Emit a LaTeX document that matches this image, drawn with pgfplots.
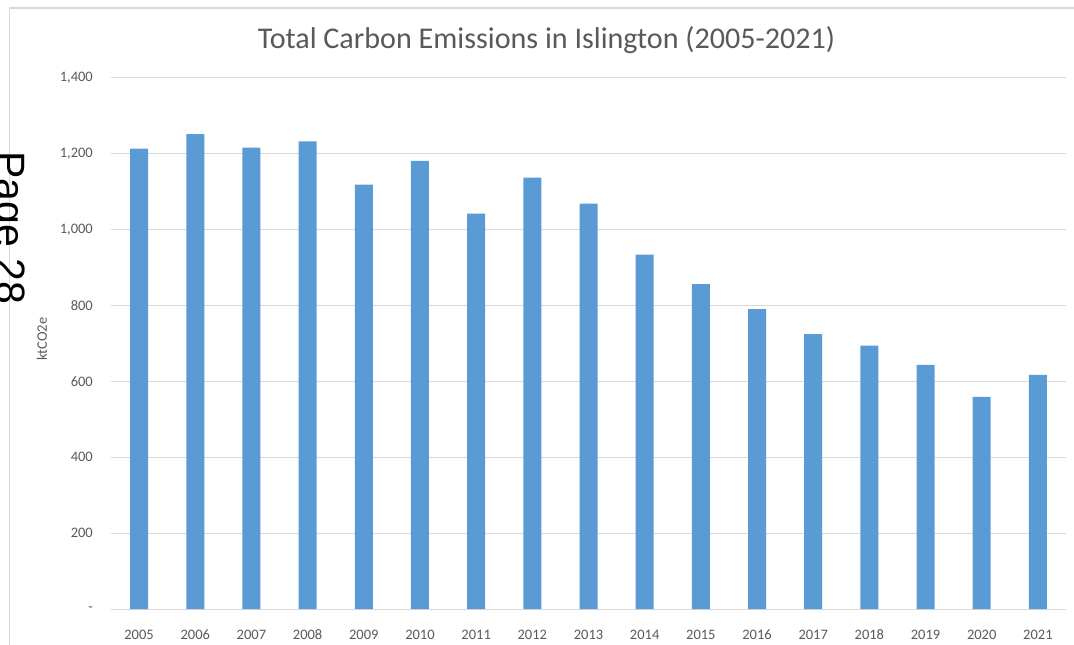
\documentclass[border=0pt]{standalone}
\usepackage{fontspec}
\setmainfont{Carlito}
\newfontfamily\arialfont{Liberation Sans}
\usepackage{pgfplots}
\pgfplotsset{compat=1.18}
\definecolor{barblue}{HTML}{5B9BD5}
\definecolor{txtgray}{HTML}{595959}
\definecolor{gridgray}{HTML}{D9D9D9}
\begin{document}
\begin{tikzpicture}
\path[use as bounding box] (0,0) rectangle (1074bp,-645bp);
\draw[gridgray, line width=1.2bp] (9.5bp,-645bp) -- (9.5bp,-8bp) -- (1074bp,-8bp);
\node[rotate=-90, anchor=base west, inner sep=0pt, font=\arialfont\fontsize{41bp}{48bp}\selectfont] at (-4bp,-151bp) {Page 28};
\begin{axis}[
  at={(111bp,-609bp)}, anchor=south west,
  scale only axis, width=955bp, height=531.3bp,
  xmin=-0.5, xmax=16.5, ymin=0, ymax=1400,
  axis line style={draw=none},
  tick style={draw=none},
  ymajorgrids,
  major grid style={gridgray, line width=1bp},
  ytick={0,200,400,600,800,1000,1200,1400},
  yticklabels={{-},{200},{400},{600},{800},{1,000},{1,200},{1,400}},
  xtick=data,
  xticklabels={2005,2006,2007,2008,2009,2010,2011,2012,2013,2014,2015,2016,2017,2018,2019,2020,2021},
  ticklabel style={font=\fontsize{14.5bp}{17bp}\selectfont, text=txtgray, inner sep=0pt},
  xticklabel style={anchor=base, yshift=-26bp},
  yticklabel style={anchor=east, xshift=-18bp},
  ylabel={ktCO2e},
  ylabel style={at={(rel axis cs:-0.0723,0.508)}, anchor=center, font=\fontsize{14.5bp}{17bp}\selectfont, text=txtgray, inner sep=0pt},
  title={Total Carbon Emissions in Islington (2005-2021)},
  title style={at={(rel axis cs:0.456,1.0446)}, anchor=base, font=\fontsize{30.1bp}{35bp}\selectfont, text=txtgray, inner sep=0pt},
  ybar, bar width=18bp,
]
\addplot[fill=barblue, draw=none] coordinates {
  (0,1213) (1,1251) (2,1216) (3,1232) (4,1118) (5,1181) (6,1042) (7,1137) (8,1068)
  (9,934) (10,856) (11,790) (12,724) (13,694) (14,643) (15,559) (16,617)
};
\end{axis}
\end{tikzpicture}
\end{document}
